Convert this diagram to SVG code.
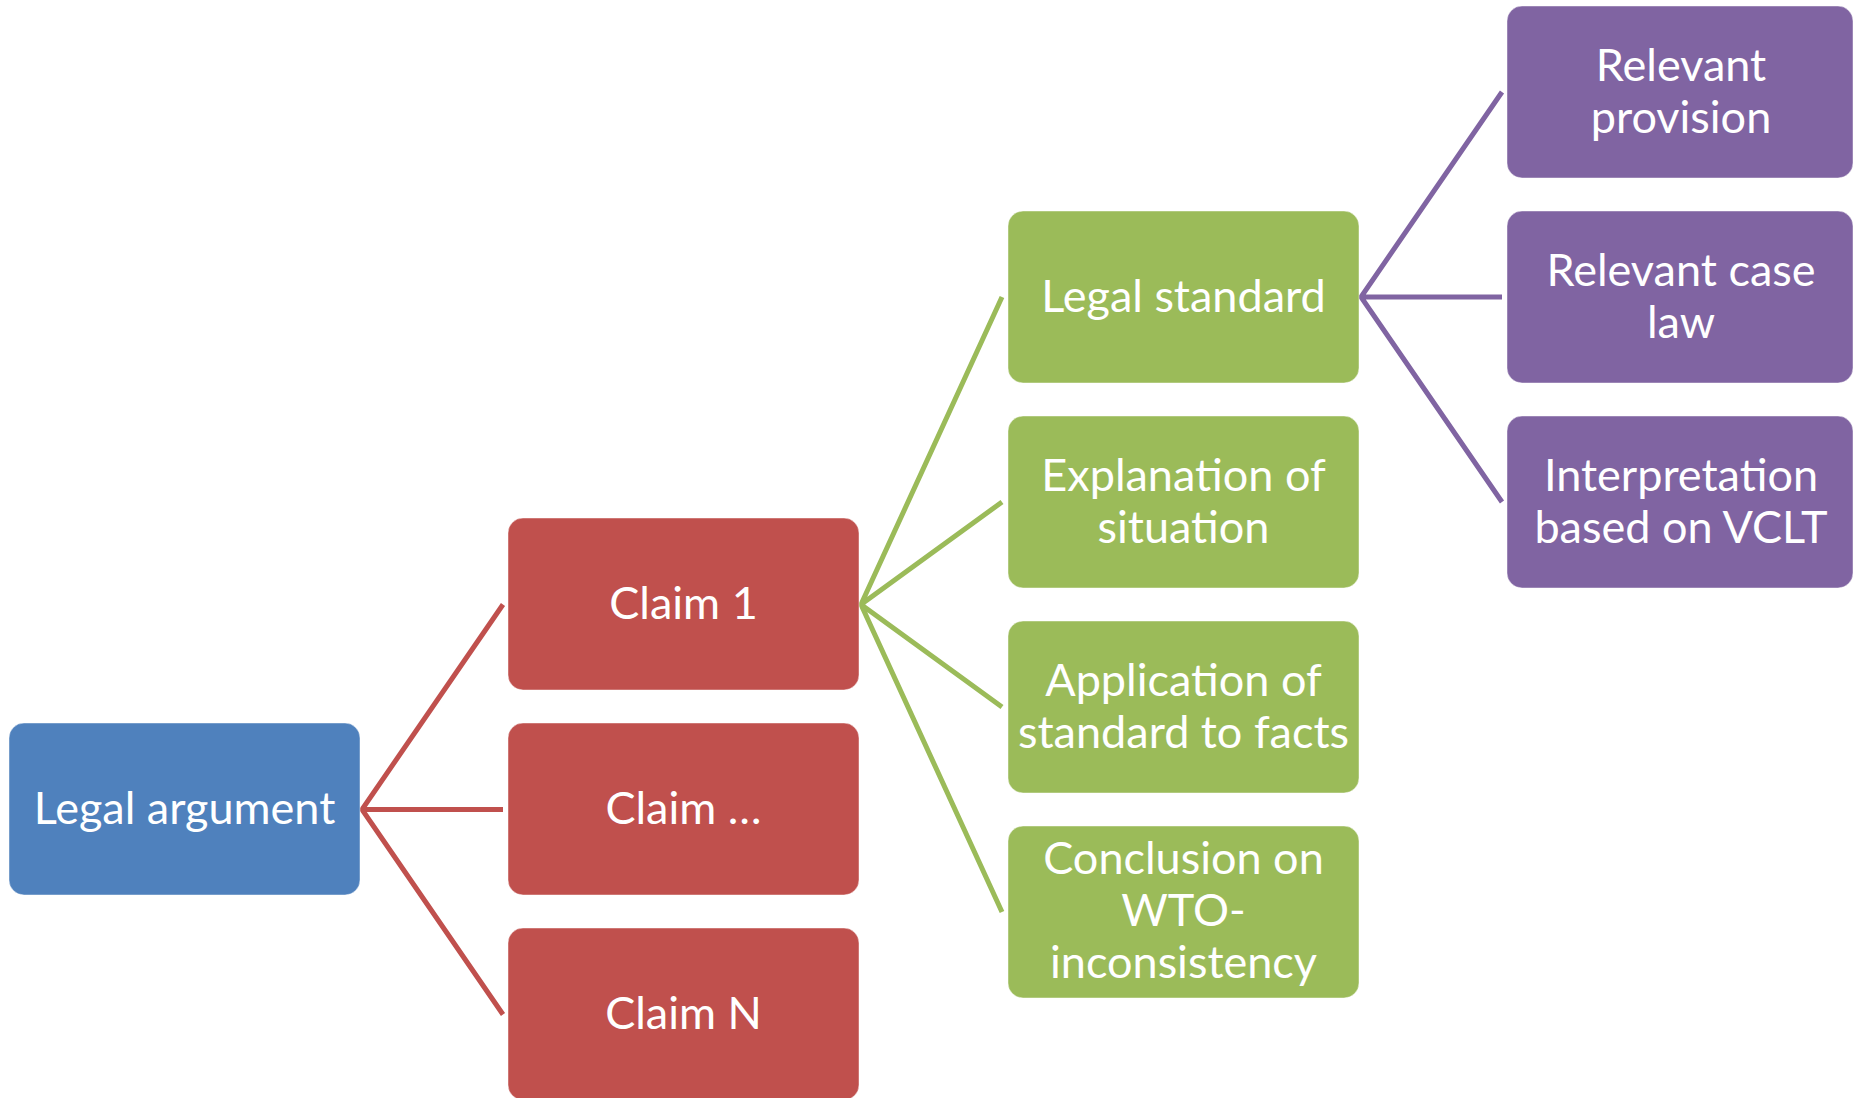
<svg xmlns="http://www.w3.org/2000/svg" width="1853" height="1098" viewBox="0 0 1853 1098">
<style>
.box{stroke:#ffffff;stroke-opacity:0.45;stroke-width:1}
.blue{fill:#4F81BD}
.red{fill:#C0504D}
.green{fill:#9BBB59}
.purple{fill:#8064A2}
.lbl{font-family:Lato,"Liberation Sans",sans-serif;font-size:45px;fill:#ffffff;text-anchor:middle}
.con{fill:none;stroke-width:5;stroke-linejoin:miter;stroke-miterlimit:10}
</style>
<rect x="0" y="0" width="1853" height="1098" fill="#ffffff"/>
<g id="connectors">
<path class="con" stroke="#C0504D" d="M503,604.5 L362,809.5 L503,1014.5 M362,809.5 H503"/>
<path class="con" stroke="#9BBB59" d="M1002,297 L861,604.5 L1002,912 M1002,502 L861,604.5 L1002,707"/>
<path class="con" stroke="#8064A2" d="M1502,92 L1361,297 L1502,502 M1361,297 H1502"/>
</g>
<g id="legal-argument"><rect class="box blue" x="9" y="723" width="351" height="172" rx="15"/><text class="lbl" x="184.5" y="824">Legal argument</text></g>
<g id="claim-1"><rect class="box red" x="508" y="518" width="351" height="172" rx="15"/><text class="lbl" x="683.5" y="619">Claim 1</text></g>
<g id="claim-dots"><rect class="box red" x="508" y="723" width="351" height="172" rx="15"/><text class="lbl" x="683.5" y="824">Claim …</text></g>
<g id="claim-n"><rect class="box red" x="508" y="928" width="351" height="172" rx="15"/><text class="lbl" x="683.5" y="1029">Claim N</text></g>
<g id="legal-standard"><rect class="box green" x="1008" y="211" width="351" height="172" rx="15"/><text class="lbl" x="1183.5" y="311.5">Legal standard</text></g>
<g id="explanation"><rect class="box green" x="1008" y="416" width="351" height="172" rx="15"/><text class="lbl" x="1183.5" y="490.5">Explanation of</text><text class="lbl" x="1183.5" y="542.5">situation</text></g>
<g id="application"><rect class="box green" x="1008" y="621" width="351" height="172" rx="15"/><text class="lbl" x="1183.5" y="695.5">Application of</text><text class="lbl" x="1183.5" y="747.5">standard to facts</text></g>
<g id="conclusion"><rect class="box green" x="1008" y="826" width="351" height="172" rx="15"/><text class="lbl" x="1183.5" y="873.5">Conclusion on</text><text class="lbl" x="1183.5" y="925.5">WTO-</text><text class="lbl" x="1183.5" y="977.5">inconsistency</text></g>
<g id="relevant-provision"><rect class="box purple" x="1507" y="6" width="346" height="172" rx="15"/><text class="lbl" x="1681" y="80.5">Relevant</text><text class="lbl" x="1681" y="132.5">provision</text></g>
<g id="relevant-case-law"><rect class="box purple" x="1507" y="211" width="346" height="172" rx="15"/><text class="lbl" x="1681" y="285.5">Relevant case</text><text class="lbl" x="1681" y="337.5">law</text></g>
<g id="interpretation"><rect class="box purple" x="1507" y="416" width="346" height="172" rx="15"/><text class="lbl" x="1681" y="490.5">Interpretation</text><text class="lbl" x="1681" y="542.5">based on VCLT</text></g>
</svg>
